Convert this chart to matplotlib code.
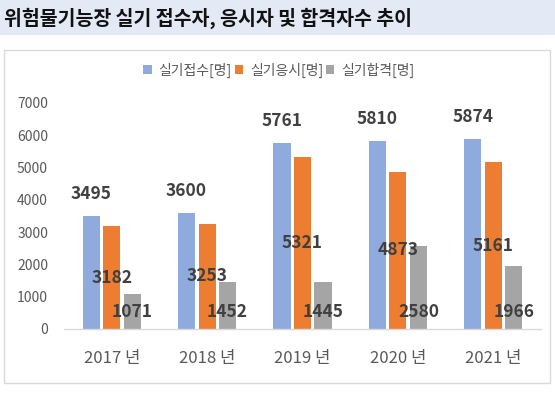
import matplotlib
matplotlib.use("Agg")
import matplotlib.pyplot as plt
from matplotlib.patches import Rectangle, Patch
import numpy as np

plt.rcParams['font.family'] = ['Noto Sans CJK KR', 'DejaVu Sans']

title = "위험물기능장 실기 접수자, 응시자 및 합격자수 추이"
years = ["2017 년", "2018 년", "2019 년", "2020 년", "2021 년"]
series_names = ["실기접수[명]", "실기응시[명]", "실기합격[명]"]
applied = [3495, 3600, 5761, 5810, 5874]
tested = [3182, 3253, 5321, 4873, 5161]
passed = [1071, 1452, 1445, 2580, 1966]
colors = ["#8FAADC", "#ED7D31", "#A5A5A5"]

W, H = 555, 397
DPI = 100
fig = plt.figure(figsize=(W / DPI, H / DPI), dpi=DPI)


def fx(px):
    return px / W


def fy(py):
    return 1 - py / H


# title band
fig.patches.append(Rectangle((0, fy(35)), 1, 35 / H, transform=fig.transFigure,
                             facecolor="#E4EAF5", edgecolor="none", zorder=-2))
fig.text(fx(4), fy(18), title, fontsize=14, fontweight='bold', color="#111111",
         ha='left', va='center')

# chart box
fig.patches.append(Rectangle((fx(4), fy(383)), fx(550) - fx(4), (383 - 50) / H,
                             transform=fig.transFigure, facecolor="white",
                             edgecolor="#D9D9D9", linewidth=1.0, zorder=-2))

ax_left, ax_right, ax_top, ax_bot = 64, 541, 103, 329
ax = fig.add_axes([fx(ax_left), fy(ax_bot), (ax_right - ax_left) / W, (ax_bot - ax_top) / H])
ax.set_facecolor("none")
ax.set_zorder(1)

x = np.arange(len(years))
width = 0.18
offsets = [-0.215, 0.0, 0.215]
data = [applied, tested, passed]
for vals, off, c in zip(data, offsets, colors):
    ax.bar(x + off, vals, width=width, color=c, zorder=2)

lab_kw = dict(fontsize=12.5, fontweight='bold', color="#404040", ha='center', va='center',
              annotation_clip=False)
for i in range(len(years)):
    ax.annotate(str(applied[i]), (x[i] + offsets[0], applied[i]), xytext=(0, 22 * 72 / DPI),
                textcoords='offset points', **lab_kw)
    ax.annotate(str(tested[i]), (x[i] + offsets[1], tested[i] / 2), **lab_kw)
    ax.annotate(str(passed[i]), (x[i] + offsets[2], 0), xytext=(0, 17 * 72 / DPI),
                textcoords='offset points', **lab_kw)

ax.set_xlim(-0.5, len(years) - 0.5)
ax.set_ylim(0, 7000)
ax.set_yticks(range(0, 7001, 1000))
ax.set_xticks(x)
ax.set_xticklabels(years)
for s in ["top", "right", "left"]:
    ax.spines[s].set_visible(False)
ax.spines["bottom"].set_color("#D9D9D9")
ax.spines["bottom"].set_linewidth(1.0)
ax.tick_params(axis='y', length=0, pad=16 * 72 / DPI, labelsize=10, labelcolor="#595959")
ax.tick_params(axis='x', length=0, pad=21 * 72 / DPI, labelsize=12, labelcolor="#595959")

handles = [Patch(facecolor=c, edgecolor='none') for c in colors]
fig.legend(handles, series_names, loc='center', bbox_to_anchor=(fx(279), fy(70)),
           ncol=3, frameon=False, fontsize=10, labelcolor="#595959",
           handlelength=0.6, handleheight=0.6, handletextpad=0.5, columnspacing=0.2,
           borderpad=0, borderaxespad=0)

fig.savefig("out.png", dpi=DPI)
